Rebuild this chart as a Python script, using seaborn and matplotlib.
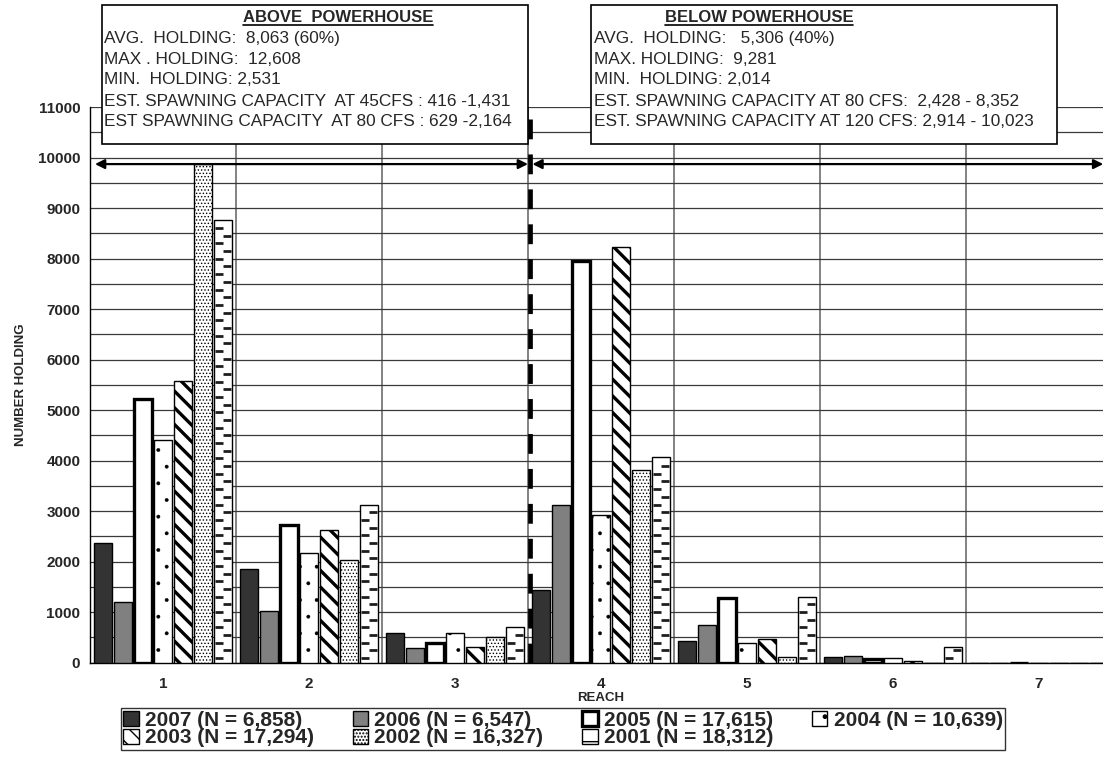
import matplotlib
matplotlib.use("Agg")
import matplotlib.pyplot as plt
import seaborn as sns
import numpy as np
import pandas as pd
from matplotlib.ticker import MultipleLocator, FixedLocator
from matplotlib.lines import Line2D
from matplotlib.patches import Rectangle

# ---- data -----------------------------------------------------------------
reaches = ["1", "2", "3", "4", "5", "6", "7"]
years = ["2007", "2006", "2005", "2004", "2003", "2002", "2001"]
year_totals = ["6,858", "6,547", "17,615", "10,639", "17,294", "16,327", "18,312"]

holding_2007 = [2372, 1858, 580, 1443, 422, 119, 0]
holding_2006 = [1192, 1021, 283, 3116, 744, 138, 0]
holding_2005 = [5217, 2721, 395, 7958, 1271, 66, 0]
holding_2004 = [4414, 2174, 580, 2931, 395, 86, 0]
holding_2003 = [5573, 2628, 303, 8235, 461, 33, 0]
holding_2002 = [9865, 2042, 507, 3808, 105, 0, 0]
holding_2001 = [8762, 3123, 711, 4078, 1304, 310, 0]

above_lines = [
    "AVG.  HOLDING:  8,063 (60%)",
    "MAX . HOLDING:  12,608",
    "MIN.  HOLDING: 2,531",
    "EST. SPAWNING CAPACITY  AT 45CFS : 416 -1,431",
    "EST SPAWNING CAPACITY  AT 80 CFS : 629 -2,164",
]
below_lines = [
    "AVG.  HOLDING:   5,306 (40%)",
    "MAX. HOLDING:  9,281",
    "MIN.  HOLDING: 2,014",
    "EST. SPAWNING CAPACITY AT 80 CFS:  2,428 - 8,352",
    "EST. SPAWNING CAPACITY AT 120 CFS: 2,914 - 10,023",
]

series = [holding_2007, holding_2006, holding_2005, holding_2004,
          holding_2003, holding_2002, holding_2001]
records = []
for yr, vals in zip(years, series):
    for r, v in zip(reaches, vals):
        records.append({"reach": r, "year": yr, "holding": v})
df = pd.DataFrame(records)

# ---- styling --------------------------------------------------------------
sns.set_theme(style="white")
plt.rcParams["font.family"] = ["Liberation Sans", "DejaVu Sans"]
plt.rcParams["hatch.linewidth"] = 1.0

W, H = 1103, 757
fig = plt.figure(figsize=(W / 100, H / 100), dpi=100)
fig.patch.set_facecolor("white")


def fx(px):
    return px / W


def fy(py):
    return 1 - py / H


y0_px, ytop_px, x0_px, cat_px = 662.7, 107.0, 90.0, 146.0
ax = fig.add_axes([fx(x0_px), fy(y0_px), 7 * cat_px / W, (y0_px - ytop_px) / H])

face = {"2007": "#333333", "2006": "#808080"}
palette = {y: face.get(y, "white") for y in years}

sns.barplot(data=df, x="reach", y="holding", hue="year", hue_order=years,
            order=reaches, palette=palette, saturation=1, width=0.96,
            gap=0.1, legend=False, ax=ax)

styles = {
    "2007": dict(hatch=None, lw=1.0, hlw=1.0),
    "2006": dict(hatch=None, lw=1.0, hlw=1.0),
    "2005": dict(hatch=None, lw=2.4, hlw=1.0),
    "2004": dict(hatch=".", lw=1.0, hlw=0.3),
    "2003": dict(hatch="\\\\", lw=1.0, hlw=2.4),
    "2002": dict(hatch=".....", lw=1.0, hlw=0.6),
    "2001": dict(hatch=None, lw=1.0, hlw=1.0),
}
for yr, cont in zip(years, ax.containers):
    st = styles[yr]
    for bar in cont:
        bar.set_edgecolor("black")
        bar.set_linewidth(st["lw"])
        if st["hatch"]:
            bar.set_hatch(st["hatch"])
        if hasattr(bar, "set_hatch_linewidth"):
            bar.set_hatch_linewidth(st["hlw"])
        bar.set_zorder(3)

# short staggered dashes fill the 2001 bars
dash_step = 152
for bar in ax.containers[years.index("2001")]:
    h = bar.get_height()
    if h <= 0:
        continue
    bx, bw = bar.get_x(), bar.get_width()
    ys = np.arange(dash_step * 0.6, h - dash_step * 0.3, dash_step)
    xs = np.where(np.arange(len(ys)) % 2 == 0, bx + bw * 0.3, bx + bw * 0.7)
    ax.plot(xs, ys, ls="none", marker="_", ms=5.5, mew=2.0,
            color="#1e1e1e", zorder=4)

# axes limits, ticks and grid
ax.set_xlim(-0.5, 6.5)
ax.set_ylim(0, 11000)
ax.yaxis.set_major_locator(MultipleLocator(1000))
ax.yaxis.set_minor_locator(MultipleLocator(500))
ax.xaxis.set_minor_locator(FixedLocator([0.5, 1.5, 2.5, 3.5, 4.5, 5.5]))
ax.set_axisbelow(True)
ax.grid(axis="y", which="both", color="#3a3a3a", lw=0.9)
ax.grid(axis="x", which="minor", color="#606060", lw=1.1)
ax.grid(axis="x", which="major", visible=False)
for s in ["top", "right"]:
    ax.spines[s].set_visible(False)
for s in ["left", "bottom"]:
    ax.spines[s].set_color("black")
    ax.spines[s].set_linewidth(1.0)

ax.tick_params(axis="y", which="major", direction="out", length=4, width=1,
               color="black", pad=3, labelsize=11)
ax.tick_params(axis="y", which="minor", length=0)
ax.tick_params(axis="x", which="major", length=0, pad=10, labelsize=11)
ax.tick_params(axis="x", which="minor", direction="out", length=4, width=1,
               color="black")
for lab in ax.get_xticklabels() + ax.get_yticklabels():
    lab.set_fontweight("bold")

ax.set_xlabel("REACH", fontsize=9.5, fontweight="bold", labelpad=1)
ax.set_ylabel("NUMBER HOLDING", fontsize=9.5, fontweight="bold", labelpad=8)

# powerhouse divider and reach-span arrows
ax.axvline(2.515, ymin=0, ymax=1, color="black", lw=3.4,
           dashes=(4.2, 3.2), zorder=6)
arrow_y = 9870
arrow_kw = dict(arrowstyle="<|-|>", color="black", lw=1.6,
                mutation_scale=14, shrinkA=0, shrinkB=0)
ax.annotate("", xy=(-0.466, arrow_y), xytext=(2.50, arrow_y),
            arrowprops=arrow_kw, annotation_clip=False, zorder=7)
ax.annotate("", xy=(2.53, arrow_y), xytext=(6.44, arrow_y),
            arrowprops=arrow_kw, annotation_clip=False, zorder=7)

# legend (column-major order gives the two-row layout)
dash_proxy = Rectangle((0, 0), 1, 1, facecolor="white", edgecolor="black",
                       lw=1.0, hatch="-")
if hasattr(dash_proxy, "set_hatch_linewidth"):
    dash_proxy.set_hatch_linewidth(1.6)
legend_handles = list(ax.containers)
legend_handles[years.index("2001")] = dash_proxy
order = [0, 4, 1, 5, 2, 6, 3]
handles = [legend_handles[i] for i in order]
labels = [f"{years[i]} (N = {year_totals[i]})" for i in order]
leg = fig.legend(handles, labels, ncol=4, loc="center",
                 bbox_to_anchor=(fx(563), fy(729)),
                 prop={"weight": "bold", "size": 15},
                 frameon=True, fancybox=False, edgecolor="black",
                 handlelength=0.75, handleheight=0.75, handletextpad=0.3,
                 columnspacing=1.85, labelspacing=-0.05, borderpad=0.1,
                 borderaxespad=0)
leg.get_frame().set_linewidth(1.0)

# summary boxes above and below the powerhouse
line_ys = [39, 60, 80, 102, 122]


def summary_box(left, right, title, title_cx, text_x, lines):
    rect = Rectangle((fx(left), fy(144)), (right - left) / W, (144 - 5) / H,
                     transform=fig.transFigure, facecolor="white",
                     edgecolor="black", lw=1.2, zorder=10)
    fig.add_artist(rect)
    t = fig.text(fx(title_cx), fy(17), title, ha="center", va="center",
                 fontsize=12, fontweight="bold", zorder=11)
    for yy, s in zip(line_ys, lines):
        fig.text(fx(text_x), fy(yy), s, ha="left", va="center",
                 fontsize=12.4, zorder=11)
    return t


t_above = summary_box(102, 528, "ABOVE  POWERHOUSE", 338, 103.5, above_lines)
t_below = summary_box(591, 1057, "BELOW POWERHOUSE", 759, 594, below_lines)

fig.canvas.draw()
inv = fig.transFigure.inverted()
for t in (t_above, t_below):
    bb = t.get_window_extent()
    (xa, _), (xb, _) = inv.transform([(bb.x0, 0), (bb.x1, 0)])
    fig.add_artist(Line2D([xa, xb], [fy(24.5), fy(24.5)],
                          transform=fig.transFigure, color="black",
                          lw=1.2, zorder=11))

fig.savefig("out.png", dpi=100)
